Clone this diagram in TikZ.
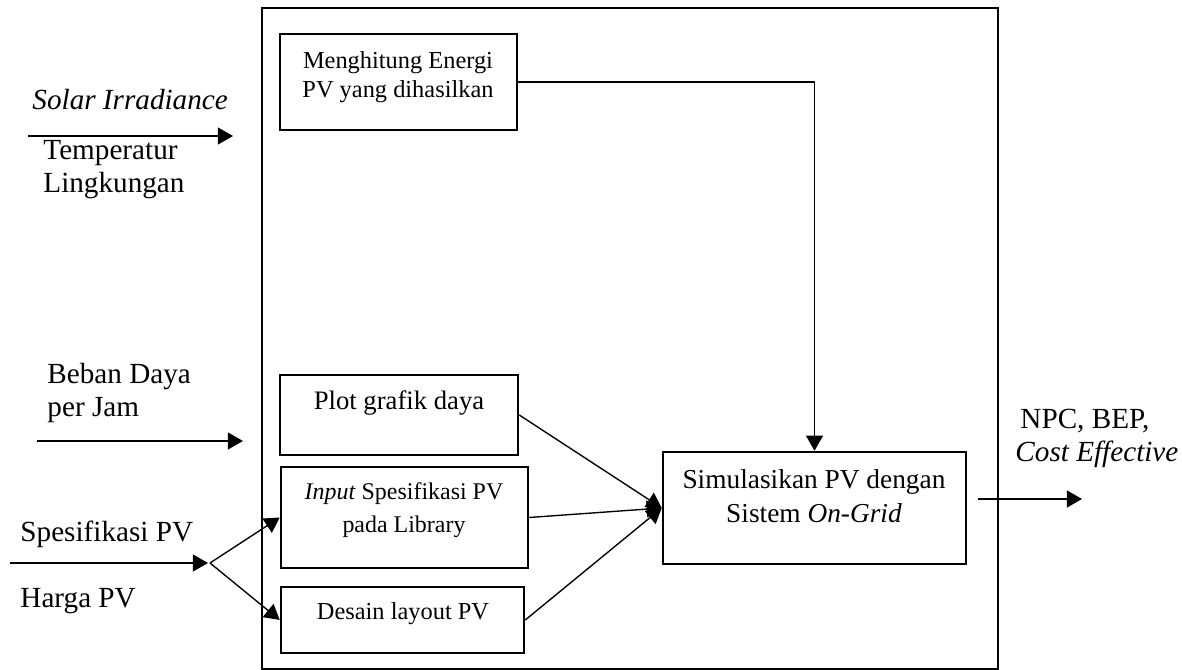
\documentclass[tikz,border=0pt]{standalone}
\usepackage{fontspec}
\setmainfont{Liberation Serif}
\usetikzlibrary{arrows.meta,fit}
\begin{document}
\begin{tikzpicture}[x=0.4386pt,y=-0.4386pt,
  frame/.style={draw,line width=1.1pt,inner sep=0pt},
  box/.style={draw,line width=1.1pt,inner sep=0pt},
  lbl/.style={inner sep=0pt,anchor=base west,font=\fontsize{12.8}{15}\selectfont},
  inl/.style={inner sep=0pt,anchor=base,font=\fontsize{#1}{13}\selectfont},
  flow/.style={line width=0.6pt,-{Triangle[length=6.6pt,width=7.4pt]}}]
\useasboundingbox (0,0) rectangle (1182,670);

% outer system boundary
\node[frame,fit={(262,8) (998,669)}] (sys) {};

% process boxes
\node[box,fit={(280,34) (517,130)}] (energi) {};
\node[box,fit={(280,375) (518,455)}] (plot) {};
\node[box,fit={(281,467) (528,568)}] (input) {};
\node[box,fit={(281,587) (524,653)}] (desain) {};
\node[box,fit={(663,452) (966,564)}] (sim) {};

% texts inside the boxes
\node[inl=10.7] (energi1) at (398,69) {Menghitung Energi};
\node[inl=10.7] (energi2) at (398,98) {PV yang dihasilkan};
\node[inl=11.7] (plot1) at (399,410) {Plot grafik daya};
\node[inl=10.5] (input1) at (404,500) {\textit{Input} Spesifikasi PV};
\node[inl=10.5] (input2) at (404,533) {pada Library};
\node[inl=10.7] (desain1) at (403,620) {Desain layout PV};
\node[inl=12] (sim1) at (814,489) {Simulasikan PV dengan};
\node[inl=12] (sim2) at (814,523) {Sistem \textit{On-Grid}};

% input labels
\node[lbl] (solar) at (32,110) {\textit{Solar Irradiance}};
\node[lbl] (temp1) at (43,160) {Temperatur};
\node[lbl] (temp2) at (43,193) {Lingkungan};
\node[lbl] (beban1) at (47,384) {Beban Daya};
\node[lbl] (beban2) at (47,417) {per Jam};
\node[lbl] (spek) at (20,542) {Spesifikasi PV};
\node[lbl] (harga) at (20,608) {Harga PV};

% output labels
\node[lbl] (npc) at (1020,429) {NPC, BEP,};
\node[lbl] (cost) at (1015,462) {\textit{Cost Effective}};

% free ends of the input and output arrows
\coordinate (solarA) at (28,136);
\coordinate (solarB) at (233,136);
\coordinate (bebanA) at (37,441);
\coordinate (bebanB) at (243,441);
\coordinate (spekA) at (10,563);
\coordinate (spekB) at (208,563);
\coordinate (split) at (210,563);
\coordinate (outA) at (978,499);
\coordinate (outB) at (1082,499);

\draw[flow] (solarA) -- (solarB);
\draw[flow] (bebanA) -- (bebanB);
\draw[flow] (spekA) -- (spekB);
\draw[flow] (split) -- (input.west);
\draw[flow] (split) -- (desain.west);
\draw[flow] (outA) -- (outB);

% internal flow
\draw[flow] (energi.east) -| (sim.north);
\draw[flow] (plot.east) -- (sim.west);
\draw[flow] (input.east) -- (sim.west);
\draw[flow] (desain.east) -- (sim.west);
\end{tikzpicture}
\end{document}
